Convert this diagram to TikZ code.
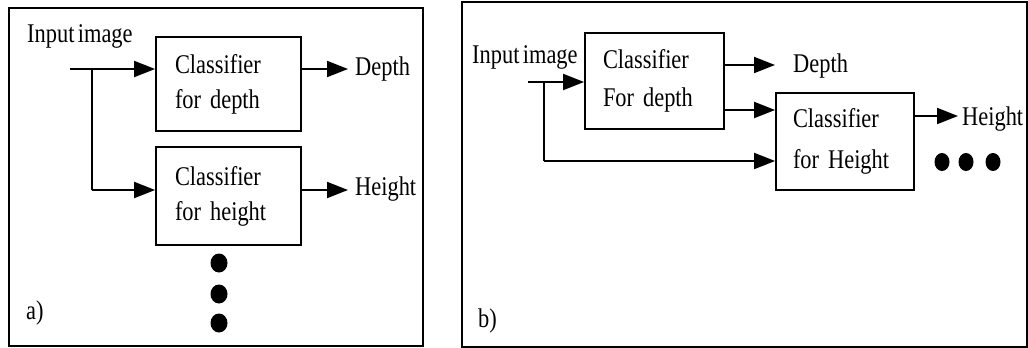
\documentclass[tikz,border=0pt]{standalone}
\usepackage{fontspec}
\setmainfont[FakeStretch=0.83,WordSpace=0.6]{Liberation Serif}
\usetikzlibrary{arrows.meta,calc}
\tikzset{
  frame/.style={draw, line width=2pt},
  box/.style={draw, line width=1.8pt, align=left, anchor=center, inner xsep=0pt, inner ysep=0pt},
  lbl/.style={inner sep=0pt, anchor=base west, font=\fontsize{27}{30}\selectfont},
  conn/.style={line width=2pt, -{Triangle[length=21pt,width=16pt]}},
  plain/.style={line width=2pt},
  dot/.style={fill=black, draw=none}
}
\begin{document}
\begin{tikzpicture}[x=1pt,y=-1pt]
\useasboundingbox (0,0) rectangle (1028,348);
% ---------- panel a ----------
\draw[frame] (9,8) rectangle (423,346);
\node[lbl] (ina) at (27,42) {Input image};
\node[box, minimum width=145pt, minimum height=94pt, text width=107pt,
      font=\fontsize{27}{35}\selectfont] (a1) at (228.5,84) {Classifier\\for depth};
\node[box, minimum width=145pt, minimum height=98pt, text width=107pt,
      font=\fontsize{27}{35}\selectfont] (a2) at (228.5,196) {Classifier\\for height};
\coordinate (sa) at (70,69);
\coordinate (ja) at (92,69);
\coordinate (ka) at (92,190);
\draw[conn] (sa) -- (sa -| a1.west);
\draw[plain] (ja) -- (ka);
\draw[conn] (ka) -- (ka -| a2.west);
\coordinate (da) at (348,69);
\coordinate (ha) at (348,190);
\draw[conn] (da -| a1.east) -- (da);
\draw[conn] (ha -| a2.east) -- (ha);
\node[lbl] (depa) at (355,75) {Depth};
\node[lbl] (heia) at (355,195) {Height};
\fill[dot] (219,263) ellipse [x radius=8.5, y radius=9.5];
\fill[dot] (219,294) ellipse [x radius=8.5, y radius=9.5];
\fill[dot] (219,323) ellipse [x radius=8.5, y radius=9.5];
\node[lbl] (pa) at (26,319) {a)};
% ---------- panel b ----------
\draw[frame] (462,2) rectangle (1027,347);
\node[lbl] (inb) at (472,63) {Input image};
\node[box, minimum width=139pt, minimum height=96pt, text width=103pt,
      font=\fontsize{27}{38}\selectfont] (b1) at (654.5,81) {Classifier\\For depth};
\node[box, minimum width=138pt, minimum height=97pt, text width=104pt,
      font=\fontsize{27}{41}\selectfont] (b2) at (845,141.5) {Classifier\\for Height};
\coordinate (sb) at (528,82);
\coordinate (jb) at (544,82);
\coordinate (kb) at (544,161);
\draw[conn] (sb) -- (sb -| b1.west);
\draw[plain] (jb) -- (kb);
\draw[conn] (kb) -- (kb -| b2.west);
\coordinate (db) at (775,65);
\coordinate (mb) at (776,110);
\draw[conn] (db -| b1.east) -- (db);
\draw[conn] (mb -| b1.east) -- (b2.west |- mb);
\coordinate (hb) at (958,116);
\draw[conn] (hb -| b2.east) -- (hb);
\node[lbl] (depb) at (793,72) {Depth};
\node[lbl] (heib) at (962,125) {Height};
\fill[dot] (942,162) ellipse [x radius=7.5, y radius=9];
\fill[dot] (966,162) ellipse [x radius=7.5, y radius=9];
\fill[dot] (993,162) ellipse [x radius=7.5, y radius=9];
\node[lbl] (pb) at (478,327) {b)};
\end{tikzpicture}
\end{document}
